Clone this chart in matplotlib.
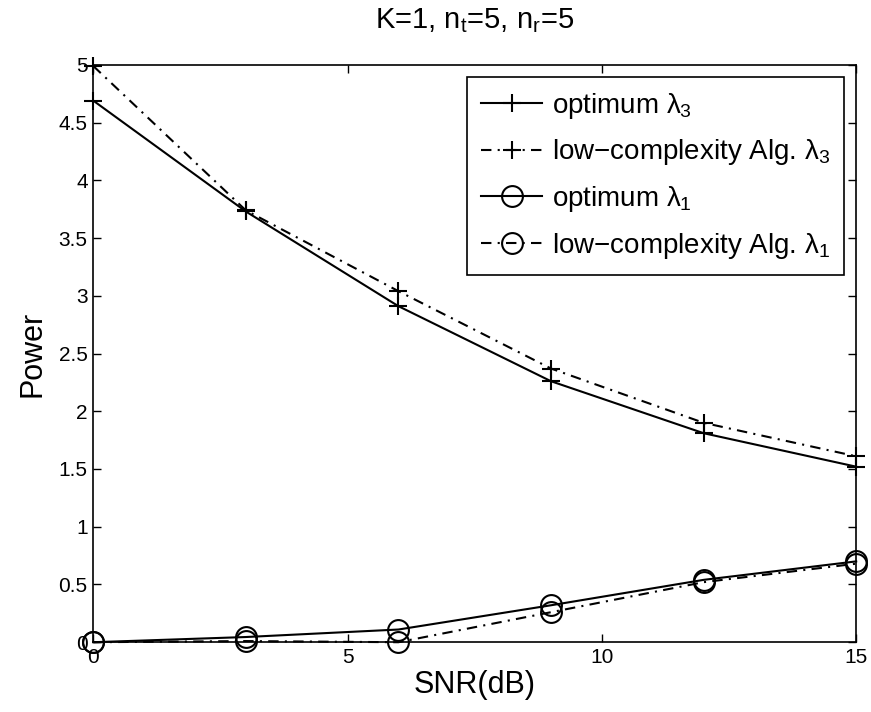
import numpy as np
import matplotlib.pyplot as plt

plt.rcParams['font.family'] = ['Liberation Sans', 'DejaVu Sans']
plt.rcParams['mathtext.fontset'] = 'custom'
plt.rcParams['mathtext.rm'] = 'Liberation Sans'
plt.rcParams['mathtext.it'] = 'Liberation Sans'

# SNR values (dB)
snr = [0, 3, 6, 9, 12, 15]

# power allocations
opt_l3 = [4.69, 3.73, 2.91, 2.26, 1.81, 1.52]
low_l3 = [4.99, 3.74, 3.04, 2.37, 1.90, 1.61]
opt_l1 = [0.00, 0.045, 0.11, 0.32, 0.54, 0.70]
low_l1 = [0.00, 0.01, 0.00, 0.26, 0.52, 0.68]

labels = ['optimum $\\lambda_3$', 'low\u2212complexity Alg. $\\lambda_3$',
          'optimum $\\lambda_1$', 'low\u2212complexity Alg. $\\lambda_1$']

dashdot = (0, (5, 3, 1, 3))

fig = plt.figure(figsize=(8.71, 7.12), dpi=100)
ax = fig.add_axes([0.107, 0.098, 0.876, 0.811])

kw = dict(color='k', lw=1.5, mew=1.5, clip_on=False)
ax.plot(snr, opt_l3, ls='-', marker='+', ms=13, label=labels[0], **kw)
ax.plot(snr, low_l3, ls=dashdot, marker='+', ms=13, label=labels[1], **kw)
ax.plot(snr, opt_l1, ls='-', marker='o', ms=15, mfc='none', label=labels[2], **kw)
ax.plot(snr, low_l1, ls=dashdot, marker='o', ms=15, mfc='none', label=labels[3], **kw)

ax.set_xlim(0, 15)
ax.set_ylim(0, 5)
ax.set_xticks([0, 5, 10, 15])
ax.set_yticks(np.arange(0, 5.01, 0.5))
ax.set_yticklabels(['0', '0.5', '1', '1.5', '2', '2.5', '3', '3.5', '4', '4.5', '5'])
ax.tick_params(direction='in', top=True, right=True, length=6, width=1, labelsize=15, pad=4)
for s in ax.spines.values():
    s.set_linewidth(1.2)

ax.set_xlabel('SNR(dB)', fontsize=22, labelpad=2)
ax.set_ylabel('Power', fontsize=22, labelpad=8)
ax.set_title('K=1, n$_\\mathregular{t}$=5, n$_\\mathregular{r}$=5', fontsize=21, pad=26)

leg = ax.legend(loc='upper right', bbox_to_anchor=(0.984, 0.979), fontsize=20,
                frameon=True, fancybox=False, edgecolor='k', framealpha=1,
                handlelength=2.2, handletextpad=0.35, borderpad=0.5,
                labelspacing=0.6, borderaxespad=0)
leg.get_frame().set_linewidth(1.2)

fig.savefig('out.png', dpi=100)
